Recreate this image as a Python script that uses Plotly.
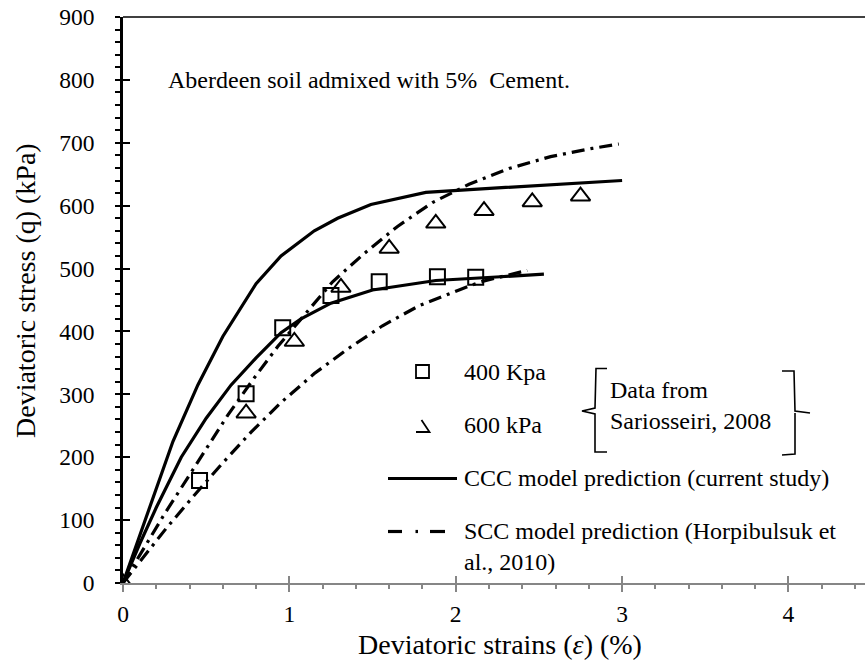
import plotly.graph_objects as go

# ---------------- data ----------------
# Sariosseiri (2008) triaxial data, Aberdeen soil + 5% cement
strain_400 = [0.46, 0.74, 0.96, 1.25, 1.54, 1.89, 2.12]
q_400 = [163, 301, 406, 457, 479, 487, 486]

strain_600 = [0.0, 0.74, 1.03, 1.31, 1.60, 1.88, 2.17, 2.46, 2.75]
q_600 = [0, 270, 384, 470, 532, 572, 592, 606, 615]

# CCC model prediction (current study)
ccc_400_x = [0.0, 0.10, 0.20, 0.35, 0.50, 0.65, 0.80, 0.95, 1.07, 1.25, 1.50, 1.88, 2.27, 2.53]
ccc_400_y = [0, 62, 120, 200, 262, 315, 358, 398, 420, 445, 466, 481, 487, 491]
ccc_600_x = [0.0, 0.10, 0.20, 0.30, 0.45, 0.60, 0.80, 0.95, 1.15, 1.29, 1.49, 1.82, 2.30, 3.00]
ccc_600_y = [0, 75, 152, 225, 315, 392, 476, 520, 560, 580, 602, 621, 629, 640]

# SCC model prediction (Horpibulsuk et al., 2010)
scc_400_x = [0.0, 0.26, 0.43, 0.60, 0.77, 0.95, 1.15, 1.35, 1.56, 1.78, 2.02, 2.15, 2.43]
scc_400_y = [0, 87, 140, 191, 240, 287, 333, 372, 409, 441, 466, 479, 497]
scc_600_x = [0.0, 0.25, 0.49, 0.63, 0.78, 0.93, 1.09, 1.26, 1.45, 1.65, 1.86, 2.08, 2.32, 2.57, 2.82, 2.98]
scc_600_y = [0, 110, 209, 267, 323, 376, 426, 479, 524, 567, 605, 634, 659, 678, 691, 698]

x_ticks = [0, 1, 2, 3, 4]
y_ticks = [0, 100, 200, 300, 400, 500, 600, 700, 800, 900]

# ---------------- styling ----------------
FONT = "Liberation Serif, Times New Roman, serif"
BLACK = "#000000"
GREY = "#868686"
W, H = 865, 663
ML, MR, MT, MB = 123, 0, 17, 80
X_MAX = 4.46
DASHDOT = "13px,6px,3px,6px"


def pxx(p):
    """Horizontal pixel position -> paper coordinate."""
    return (p - ML) / (W - ML - MR)


def pxy(p):
    """Vertical pixel position -> paper coordinate."""
    return (H - MB - p) / (H - MT - MB)


fig = go.Figure()

line_w = 3.2
fig.add_trace(go.Scatter(x=ccc_600_x, y=ccc_600_y, mode="lines",
                         line=dict(color=BLACK, width=line_w), showlegend=False))
fig.add_trace(go.Scatter(x=ccc_400_x, y=ccc_400_y, mode="lines",
                         line=dict(color=BLACK, width=line_w), showlegend=False))
fig.add_trace(go.Scatter(x=scc_600_x, y=scc_600_y, mode="lines",
                         line=dict(color=BLACK, width=line_w, dash=DASHDOT), showlegend=False))
fig.add_trace(go.Scatter(x=scc_400_x, y=scc_400_y, mode="lines",
                         line=dict(color=BLACK, width=line_w, dash=DASHDOT), showlegend=False))
fig.add_trace(go.Scatter(x=strain_400, y=q_400, mode="markers",
                         marker=dict(symbol="square-open", size=15, color=BLACK,
                                     line=dict(width=2, color=BLACK)), showlegend=False))
fig.add_trace(go.Scatter(x=strain_600, y=q_600, mode="markers",
                         marker=dict(symbol="triangle-up-open", size=17, color=BLACK,
                                     line=dict(width=2, color=BLACK)), showlegend=False))

tickfont = dict(family=FONT, size=23.5, color=BLACK)

fig.update_layout(
    width=W, height=H,
    margin=dict(l=ML, r=MR, t=MT, b=MB, pad=0),
    paper_bgcolor="white", plot_bgcolor="white",
    xaxis=dict(range=[0, X_MAX], showgrid=False, zeroline=False,
               showline=True, linecolor=GREY, linewidth=1.5,
               tickmode="array", tickvals=x_ticks, ticktext=[str(v) for v in x_ticks],
               ticks="outside", ticklen=7, tickwidth=1.5, tickcolor=GREY,
               minor=dict(dtick=0.2, ticks="outside", ticklen=4, tickwidth=1.5,
                          tickcolor=GREY, showgrid=False),
               tickfont=tickfont, ticklabelstandoff=2),
    xaxis2=dict(range=[0, X_MAX], overlaying="x", anchor="y", showgrid=False,
                zeroline=False, showline=False, showticklabels=False,
                tickmode="array", tickvals=x_ticks,
                ticks="inside", ticklen=7, tickwidth=1.5, tickcolor=GREY),
    yaxis=dict(range=[0, 900], showgrid=False, zeroline=False,
               showline=True, linecolor=BLACK, linewidth=2.5,
               tickmode="array", tickvals=y_ticks, ticktext=[str(v) for v in y_ticks],
               ticks="outside", ticklen=5, tickwidth=2, tickcolor=BLACK,
               minor=dict(dtick=20, ticks="outside", ticklen=5, tickwidth=1.5,
                          tickcolor=BLACK, showgrid=False),
               tickfont=tickfont, ticklabelstandoff=16),
    yaxis2=dict(range=[0, 900], overlaying="y", anchor="x", showgrid=False,
                zeroline=False, showline=False, showticklabels=False,
                tickmode="array", tickvals=y_ticks,
                ticks="inside", ticklen=7, tickwidth=2, tickcolor=BLACK),
)

# invisible helpers so the overlay axes are drawn
fig.add_trace(go.Scatter(x=[0], y=[0], xaxis="x2", yaxis="y", mode="markers",
                         marker=dict(opacity=0), hoverinfo="skip", showlegend=False))
fig.add_trace(go.Scatter(x=[0], y=[0], xaxis="x", yaxis="y2", mode="markers",
                         marker=dict(opacity=0), hoverinfo="skip", showlegend=False))

shapes = []
# top frame line
shapes.append(dict(type="line", xref="paper", yref="paper", x0=0, x1=1, y0=1, y1=1,
                   line=dict(color=BLACK, width=1.5)))

# legend symbols
shapes.append(dict(type="rect", xref="paper", yref="paper",
                   x0=pxx(416), x1=pxx(429), y0=pxy(378), y1=pxy(365),
                   line=dict(color=BLACK, width=1.8)))
shapes.append(dict(type="path", xref="paper", yref="paper",
                   path=f"M {pxx(421.5)},{pxy(420)} L {pxx(429.5)},{pxy(432)} L {pxx(416)},{pxy(432)}",
                   line=dict(color=BLACK, width=1.8)))
shapes.append(dict(type="line", xref="paper", yref="paper",
                   x0=pxx(388), x1=pxx(457), y0=pxy(478.5), y1=pxy(478.5),
                   line=dict(color=BLACK, width=3.2)))
shapes.append(dict(type="line", xref="paper", yref="paper",
                   x0=pxx(388), x1=pxx(402), y0=pxy(531.5), y1=pxy(531.5),
                   line=dict(color=BLACK, width=3.2)))
shapes.append(dict(type="line", xref="paper", yref="paper",
                   x0=pxx(415.5), x1=pxx(418), y0=pxy(531.5), y1=pxy(531.5),
                   line=dict(color=BLACK, width=3.2)))
shapes.append(dict(type="line", xref="paper", yref="paper",
                   x0=pxx(430), x1=pxx(445), y0=pxy(531.5), y1=pxy(531.5),
                   line=dict(color=BLACK, width=3.2)))

# braces around the data source note
shapes.append(dict(type="path", xref="paper", yref="paper",
                   path=(f"M {pxx(607)},{pxy(368.5)} L {pxx(596)},{pxy(368.5)} "
                         f"L {pxx(595)},{pxy(408)} L {pxx(582)},{pxy(411)} "
                         f"L {pxx(595)},{pxy(414)} L {pxx(595)},{pxy(452)} L {pxx(607)},{pxy(452)}"),
                   line=dict(color=BLACK, width=1.6)))
shapes.append(dict(type="path", xref="paper", yref="paper",
                   path=(f"M {pxx(782)},{pxy(371)} L {pxx(794)},{pxy(371)} "
                         f"L {pxx(795)},{pxy(411)} L {pxx(810)},{pxy(413)} "
                         f"M {pxx(795)},{pxy(413)} L {pxx(795)},{pxy(454)} L {pxx(782)},{pxy(455)}"),
                   line=dict(color=BLACK, width=1.6)))

fig.update_layout(shapes=shapes)

txt = dict(family=FONT, size=24, color=BLACK)


def note(text, x, y, **kw):
    fig.add_annotation(text=text, xref="paper", yref="paper", x=pxx(x), y=pxy(y),
                       xanchor=kw.pop("xanchor", "left"), yanchor=kw.pop("yanchor", "middle"),
                       showarrow=False, font=kw.pop("font", txt), align=kw.pop("align", "left"), **kw)


note("Aberdeen soil admixed with 5%\u00a0 Cement.", 166, 80)
note("400 Kpa", 462, 372)
note("600 kPa", 462, 425)
note("Data from<br>Sariosseiri, 2008", 608, 405)
note("CCC model prediction (current study)", 462, 478)
note("SCC model prediction (Horpibulsuk et<br>al., 2010)", 462, 546)

title_font = dict(family=FONT, size=28, color=BLACK)
note("Deviatoric strains (<i>ε</i>) (%)", 500, 645, xanchor="center", font=title_font)
note("Deviatoric stress (q) (kPa)", 25, 291, xanchor="center", textangle=-90, font=title_font)

fig.write_html("out.html")
